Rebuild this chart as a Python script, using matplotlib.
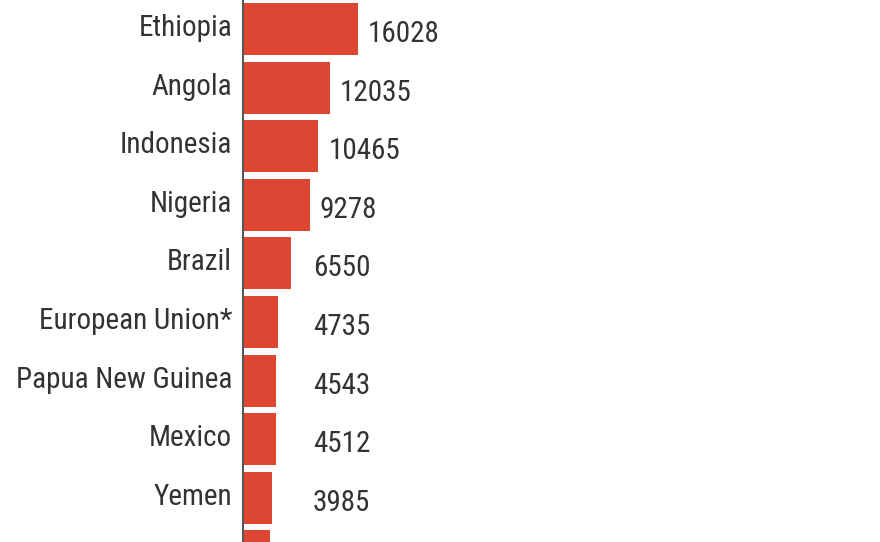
import matplotlib
matplotlib.use("Agg")
import matplotlib.pyplot as plt

# data (last bar is cut off at the bottom edge in the source, no labels visible)
countries = ["Ethiopia", "Angola", "Indonesia", "Nigeria", "Brazil",
             "European Union*", "Papua New Guinea", "Mexico", "Yemen", ""]
values = [16028, 12035, 10465, 9278, 6550, 4735, 4543, 4512, 3985, 3650]

font = ["Roboto Condensed", "DejaVu Sans"]
bar_color = "#dc4632"
text_color = "#333333"

fig = plt.figure(figsize=(8.8, 5.42), dpi=100)
ax = fig.add_axes([0, 0, 1, 1])
ax.set_axis_off()

# pixel-based mapping: x px = 244 + v * 0.00711, row pitch 58.6 px
px_per_unit = 0.00711
pitch = 58.6
ax.set_xlim(-244 / px_per_unit, (880 - 244) / px_per_unit)
ax.set_ylim((542 - 29) / pitch, -29 / pitch)

ypos = list(range(len(values)))
ax.barh(ypos, values, height=0.89, color=bar_color, zorder=2)
ax.axvline(-170, color="#444444", lw=1.3, zorder=3)

for y, name, v in zip(ypos, countries, values):
    if not name:
        continue
    ax.text(-12 / px_per_unit, y + 7 / pitch, name, ha="right", va="baseline",
            fontsize=21, family=font, color=text_color)
    lx = max(v * px_per_unit + 10, 69) / px_per_unit
    ax.text(lx, y + 13 / pitch, str(v), ha="left", va="baseline",
            fontsize=21, family=font, color=text_color)

fig.savefig("out.png", dpi=100)
